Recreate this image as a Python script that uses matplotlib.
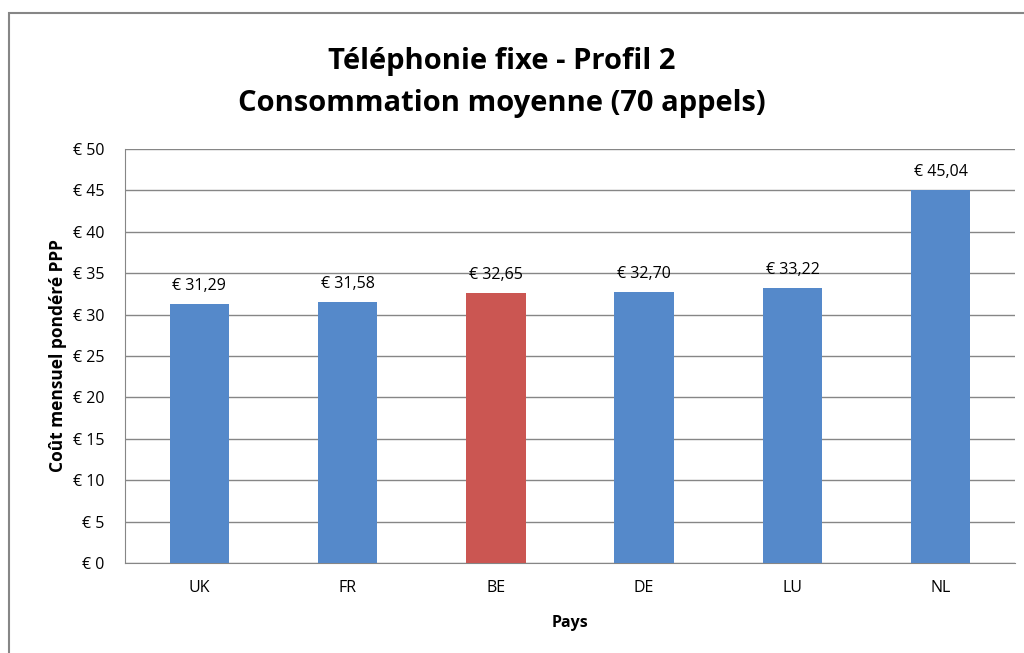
import matplotlib.pyplot as plt
from matplotlib.patches import Rectangle

pays = ["UK", "FR", "BE", "DE", "LU", "NL"]
cout = [31.29, 31.58, 32.65, 32.70, 33.22, 45.04]
couleurs = ["#5589CA", "#5589CA", "#CB5652", "#5589CA", "#5589CA", "#5589CA"]
yticks = [0, 5, 10, 15, 20, 25, 30, 35, 40, 45, 50]

plt.rcParams['font.family'] = ['Open Sans', 'DejaVu Sans']

fig = plt.figure(figsize=(10.24, 6.53), dpi=100)
ax = fig.add_axes([125/1024, 1-563/653, 890/1024, 414/653])

# outer chart border
fig.patches.append(Rectangle((9/1024, -0.05), 1.0, 1-13/653+0.05, transform=fig.transFigure,
                             fill=False, edgecolor="#868686", lw=1.5))

x = range(len(pays))
ax.bar(x, cout, width=0.4, color=couleurs, zorder=3)
for i, v in enumerate(cout):
    ax.text(i, v + 1.2, "€ " + f"{v:.2f}".replace(".", ","), ha="center", va="bottom",
            fontsize=11.5, zorder=4)

ax.set_xlim(-0.5, len(pays) - 0.5)
ax.set_ylim(0, 50)
ax.set_xticks(list(x))
ax.set_xticklabels(pays, fontsize=11.5)
ax.set_yticks(yticks)
ax.set_yticklabels(["€ " + str(t) for t in yticks], fontsize=11.5)
ax.tick_params(axis="y", length=0, pad=15)
ax.tick_params(axis="x", length=0, pad=12)
ax.grid(axis="y", color="#868686", lw=1, zorder=0)
for s in ["top", "right"]:
    ax.spines[s].set_visible(False)
ax.spines["left"].set_color("#868686")
ax.spines["bottom"].set_color("#868686")

ax.set_xlabel("Pays", fontsize=11.5, fontweight="bold", labelpad=14)
ax.set_ylabel("Coût mensuel pondéré PPP", fontsize=12.5, fontweight="bold", labelpad=4)

fig.text(0.49, 1-62/653, "Téléphonie fixe - Profil 2", ha="center", va="center",
         fontsize=21, fontweight="bold")
fig.text(0.49, 1-103/653, "Consommation moyenne (70 appels)", ha="center", va="center",
         fontsize=21, fontweight="bold")

plt.savefig("out.png", dpi=100)
